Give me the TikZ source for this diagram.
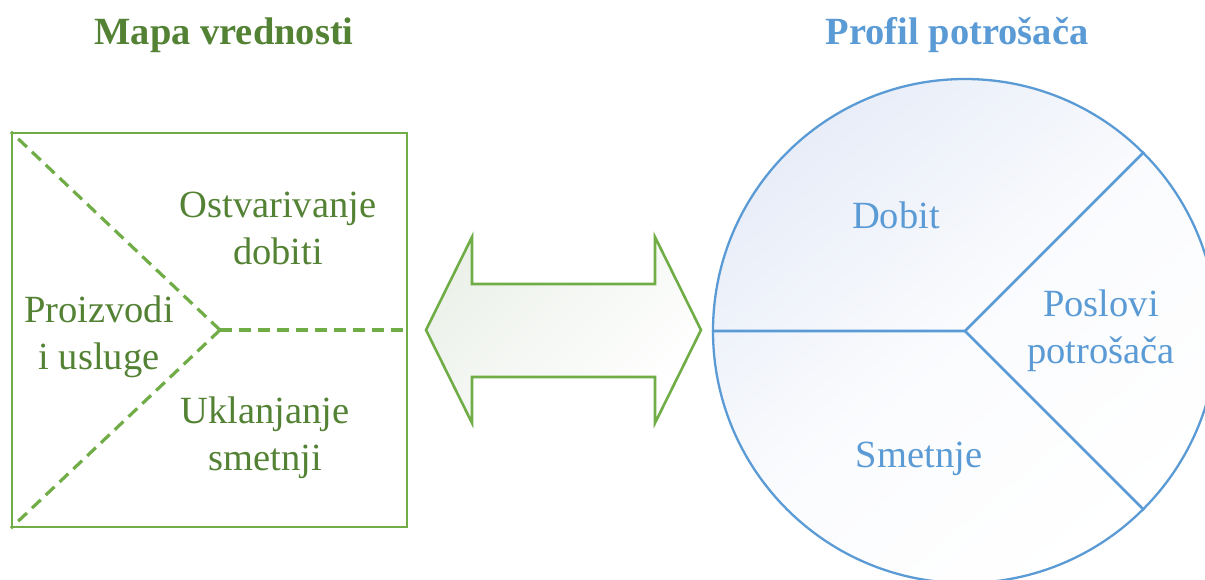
\documentclass[tikz,border=0pt]{standalone}
\usepackage{fontspec}
\setmainfont{Liberation Serif}
\usetikzlibrary{positioning}
\definecolor{vgreen}{HTML}{70AD47}
\definecolor{vgreentext}{HTML}{548235}
\definecolor{pblue}{HTML}{5B9BD5}
\definecolor{pbluefill}{HTML}{E8EDF8}
\definecolor{arrowfill}{HTML}{ECF1EA}
\tikzset{
  body/.style={font=\fontsize{38.5}{47}\selectfont, align=center, inner sep=0pt, anchor=base},
  title/.style={font=\fontsize{38.5}{44}\selectfont\bfseries, inner sep=0pt, anchor=base},
  greenlabel/.style={body, text=vgreentext},
  bluelabel/.style={body, text=pblue},
  splitline/.style={draw=vgreen, line width=3.2pt, dash pattern=on 12pt off 7pt},
}
\begin{document}
\begin{tikzpicture}[x=1pt, y=-1pt]
  \useasboundingbox (0,0) rectangle (1205,579);
  \clip (0,0) rectangle (1205,579);

  % value map: square split into three regions
  \node[draw=vgreen, line width=2.2pt, minimum width=395pt, minimum height=394pt, inner sep=0pt]
    (mapa) at (209.5,330) {};
  \coordinate (hub) at (220,330);
  \draw[splitline] (hub) -- (mapa.north west);
  \draw[splitline] (hub) -- (mapa.south west);
  \draw[splitline] (hub) -- (mapa.east);

  % labels are placed by the baseline of their last line
  \node[title, text=vgreentext] (mapatitle) at (224,44) {Mapa vrednosti};
  \node[greenlabel] (gains) at (278,264) {Ostvarivanje\\dobiti};
  \node[greenlabel] (products) at (99,369) {Proizvodi\\i usluge};
  \node[greenlabel] (pains) at (265,470) {Uklanjanje\\smetnji};

  % two-headed fit arrow
  \coordinate (ltip) at (426,330);
  \coordinate (rtip) at (701,330);
  \fill[top color=arrowfill, bottom color=white, shading angle=45]
    (ltip) -- (472,237) -- (472,284) -- (655,284) -- (655,237) -- (rtip)
    -- (655,423) -- (655,377) -- (472,377) -- (472,423) -- cycle;
  \draw[draw=vgreen, line width=2.6pt, line join=miter]
    (ltip) -- (472,237) -- (472,284) -- (655,284) -- (655,237) -- (rtip)
    -- (655,423) -- (655,377) -- (472,377) -- (472,423) -- cycle;

  % customer profile: circle split into three sectors
  \node[circle, draw=pblue, line width=2.3pt, minimum size=504pt, inner sep=0pt,
        top color=pbluefill, bottom color=white, middle color=pbluefill!20!white,
        shading angle=40]
    (profil) at (965,331) {};
  \draw[pblue, line width=2.6pt] (profil.west) -- (profil.center) -- (profil.45);
  \draw[pblue, line width=2.6pt] (profil.center) -- (profil.-45);

  \node[title, text=pblue] (profiltitle) at (957,44) {Profil potrošača};
  \node[bluelabel] (dobit) at (896,228) {Dobit};
  \node[bluelabel] (poslovi) at (1101,363) {Poslovi\\potrošača};
  \node[bluelabel] (smetnje) at (919,467) {Smetnje};
\end{tikzpicture}
\end{document}
